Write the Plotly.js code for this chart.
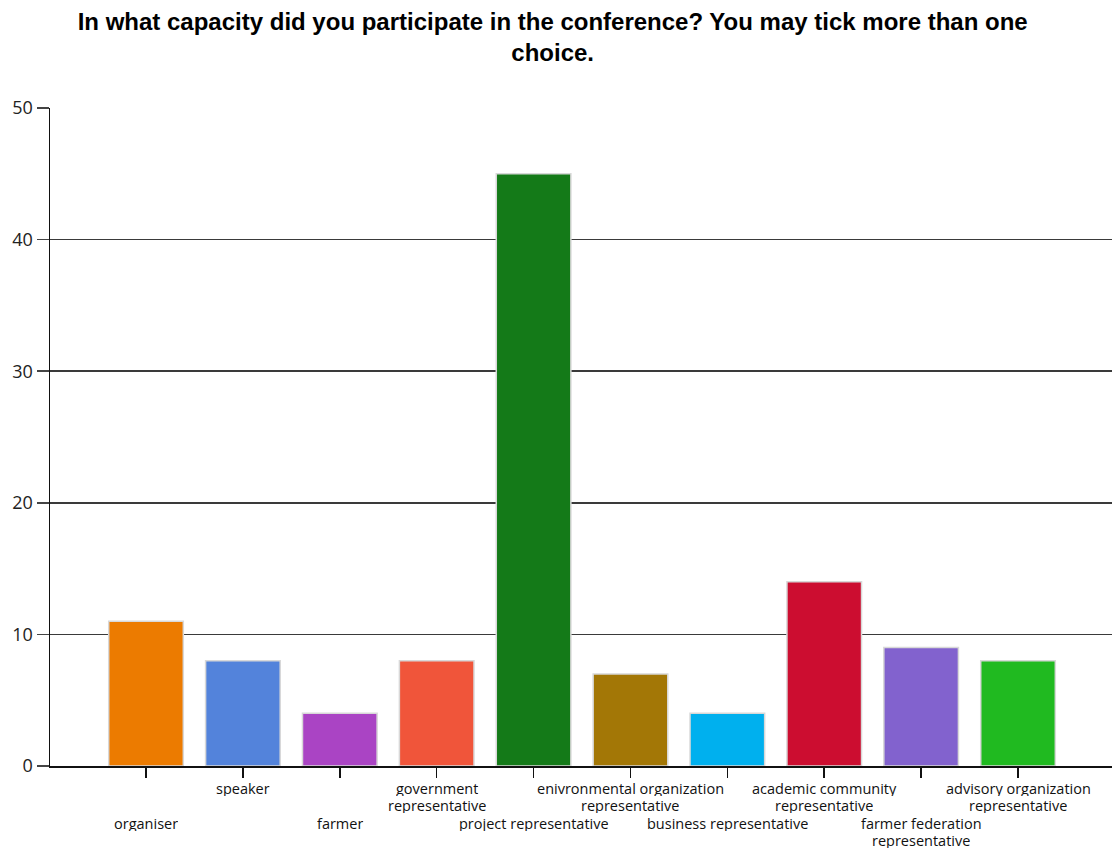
<!DOCTYPE html>
<html>
<head>
<meta charset="utf-8">
<script src="https://cdn.plot.ly/plotly-3.0.1.min.js"></script>
<style>html,body{margin:0;padding:0;background:#fff;}#chart{width:1112px;height:850px;}</style>
</head>
<body>
<div id="chart"></div>
<script>
// Data
const categories = [
  "organiser",
  "speaker",
  "farmer",
  "government\nrepresentative",
  "project representative",
  "enivronmental organization\nrepresentative",
  "business representative",
  "academic community\nrepresentative",
  "farmer federation\nrepresentative",
  "advisory organization\nrepresentative"
];
const counts = [11, 8, 4, 8, 45, 7, 4, 14, 9, 8];
const barColors = ["#EC7B00", "#5383DB", "#AA44C4", "#F0553A", "#147A18",
                   "#A37706", "#00B0EE", "#CC0D30", "#8262CE", "#20BA20"];
const yTicks = [0, 10, 20, 30, 40, 50];
const titleText = "In what capacity did you participate in the conference? You may tick more than one<br>choice.";

const xIdx = categories.map((c, i) => i);

const trace = {
  type: "bar",
  x: xIdx,
  y: counts,
  width: 0.77,
  marker: { color: barColors, line: { color: "#d8d8d8", width: 1.5 } },
  hoverinfo: "skip"
};

const labelFont = { family: "Open Sans, Noto Sans, sans-serif", size: 14.5, color: "#111" };
const annotations = [];
categories.forEach((lab, i) => {
  const base = (i % 2 === 0) ? 57 : 22;
  lab.split("\n").forEach((line, k) => {
    annotations.push({
      xref: "x", yref: "paper", x: i, y: 0,
      xanchor: "center", yanchor: "middle",
      yshift: -(base + k * 17),
      height: 16, borderpad: 0,
      text: line, showarrow: false, font: labelFont
    });
  });
});

const layout = {
  width: 1112, height: 850,
  margin: { l: 50, r: 0, t: 108, b: 84, pad: 0 },
  paper_bgcolor: "#fff", plot_bgcolor: "#fff",
  showlegend: false,
  title: {
    text: titleText,
    font: { family: "Liberation Sans, Arial, sans-serif", size: 24, color: "#000", weight: "bold" },
    xref: "container", x: 0.497, xanchor: "center",
    yref: "container", y: 1 - 30 / 850, yanchor: "middle"
  },
  xaxis: {
    type: "linear",
    range: [-0.991, 9.97],
    tickmode: "array",
    tickvals: [-1].concat(xIdx),
    showticklabels: false,
    ticks: "outside", ticklen: 10, tickwidth: 1.5, tickcolor: "#111",
    showline: true, linecolor: "#111", linewidth: 1.5,
    showgrid: false, zeroline: false, fixedrange: true
  },
  yaxis: {
    range: [0, 50],
    tickmode: "array", tickvals: yTicks,
    ticks: "outside", ticklen: 12, tickwidth: 1.5, tickcolor: "#444",
    tickfont: { family: "Open Sans, Noto Sans, sans-serif", size: 18, color: "#222" },
    showline: true, linecolor: "#111", linewidth: 1.5,
    showgrid: true, gridcolor: "#3a3a3a", gridwidth: 1.6,
    zeroline: false, fixedrange: true
  },
  annotations: annotations
};

Plotly.newPlot("chart", [trace], layout, { staticPlot: true, displayModeBar: false });
</script>
</body>
</html>
